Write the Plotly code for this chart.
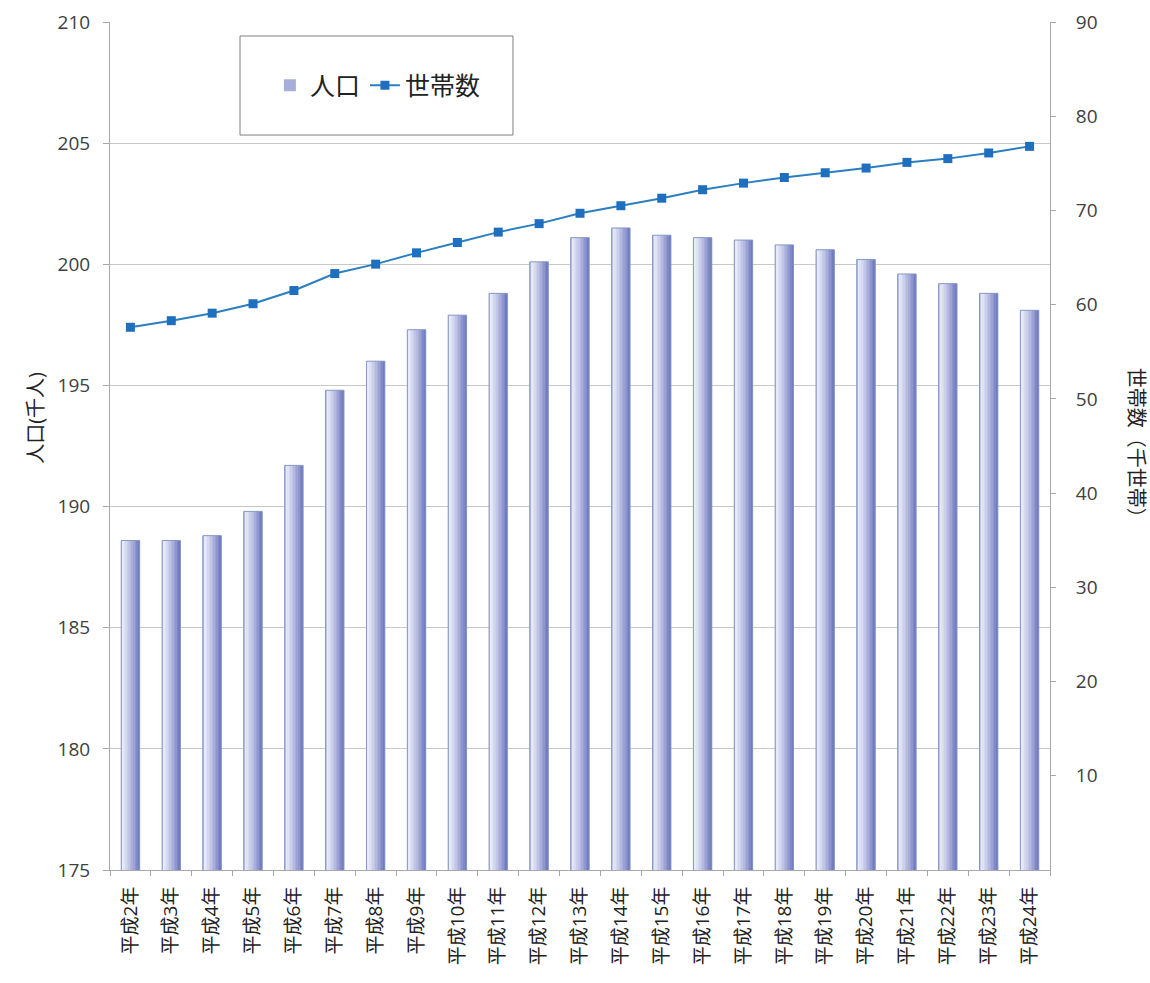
import plotly.graph_objects as go

# 年次（平成2年〜平成24年）
years = ["平成2年", "平成3年", "平成4年", "平成5年", "平成6年", "平成7年", "平成8年",
         "平成9年", "平成10年", "平成11年", "平成12年", "平成13年", "平成14年",
         "平成15年", "平成16年", "平成17年", "平成18年", "平成19年", "平成20年",
         "平成21年", "平成22年", "平成23年", "平成24年"]

# 人口（千人）
population = [188.6, 188.6, 188.8, 189.8, 191.7, 194.8, 196.0, 197.3, 197.9, 198.8,
              200.1, 201.1, 201.5, 201.2, 201.1, 201.0, 200.8, 200.6, 200.2, 199.6,
              199.2, 198.8, 198.1]

# 世帯数（千世帯）
households = [57.6, 58.3, 59.1, 60.1, 61.5, 63.3, 64.3, 65.5, 66.6, 67.7, 68.6, 69.7,
              70.5, 71.3, 72.2, 72.9, 73.5, 74.0, 74.5, 75.1, 75.5, 76.1, 76.8]

left_ticks = [175, 180, 185, 190, 195, 200, 205, 210]
right_ticks = [10, 20, 30, 40, 50, 60, 70, 80, 90]

FONT = "Open Sans, Noto Sans CJK JP, sans-serif"
TICK_COLOR = "#404040"
TEXT_COLOR = "#222222"

fig = go.Figure()

# 円柱風のグラデーションを細い縦帯の重ね合わせで表現
bar_w = 0.45
n_slices = 12
light = (240, 242, 252)
dark = (108, 116, 190)
for i in range(n_slices):
    t = (i + 0.5) / n_slices
    k = t ** 1.3
    if i == 0:
        k = 0.35
    r = round(light[0] + (dark[0] - light[0]) * k)
    g = round(light[1] + (dark[1] - light[1]) * k)
    b = round(light[2] + (dark[2] - light[2]) * k)
    fig.add_trace(go.Bar(
        x=years, y=population,
        width=bar_w / n_slices,
        offset=-bar_w / 2 + i * bar_w / n_slices,
        marker=dict(color=f"rgb({r},{g},{b})", line=dict(width=0)),
        name="人口", showlegend=(i == 7), legendgroup="pop",
        yaxis="y",
    ))

# 棒の輪郭
fig.add_trace(go.Bar(
    x=years, y=population, width=bar_w, offset=-bar_w / 2,
    marker=dict(color="rgba(0,0,0,0)", line=dict(width=1, color="#8598c4")),
    showlegend=False, legendgroup="pop", hoverinfo="skip", yaxis="y",
))

fig.add_trace(go.Scatter(
    x=years, y=households, name="世帯数", yaxis="y2",
    mode="lines+markers",
    line=dict(color="#2a7fc0", width=2),
    marker=dict(symbol="square", size=9, color="#1f6fbf"),
))

fig.update_layout(
    width=1150, height=983,
    margin=dict(l=110, r=100, t=22, b=113),
    paper_bgcolor="white", plot_bgcolor="white",
    barmode="overlay",
    font=dict(family=FONT, color=TICK_COLOR),
    xaxis=dict(
        type="category", tickangle=-90, automargin=False,
        tickfont=dict(size=19, color=TEXT_COLOR, family=FONT),
        showgrid=False, showline=True, linecolor="#a8a8a8", linewidth=1,
        ticks="outside", tickson="boundaries", ticklen=5, tickcolor="#a8a8a8",
        ticklabelstandoff=8,
        range=[-0.5, len(years) - 0.5],
    ),
    yaxis=dict(
        range=[175, 210], tickvals=left_ticks, automargin=False,
        tickfont=dict(size=19, color=TICK_COLOR),
        showgrid=True, gridcolor="#c8c8c8", gridwidth=1,
        showline=True, linecolor="#a8a8a8", linewidth=1,
        ticks="outside", ticklen=6, tickcolor="#a8a8a8",
        ticklabelstandoff=9,
        zeroline=False,
    ),
    yaxis2=dict(
        overlaying="y", side="right", automargin=False,
        range=[0, 90], tickvals=right_ticks,
        tickfont=dict(size=19, color=TICK_COLOR),
        showgrid=False, showline=True, linecolor="#a8a8a8", linewidth=1,
        ticks="outside", ticklen=5, tickcolor="#a8a8a8",
        ticklabelstandoff=16,
        zeroline=False,
    ),
    legend=dict(
        orientation="h", x=0.285, y=0.925, xanchor="center", yanchor="middle",
        bgcolor="rgba(0,0,0,0)", borderwidth=0,
        font=dict(size=25, color=TEXT_COLOR),
        itemwidth=30,
    ),
    shapes=[dict(
        type="rect", xref="paper", yref="paper",
        x0=0.1383, x1=0.4287, y0=0.8667, y1=0.9835,
        line=dict(color="#7f7f7f", width=1), fillcolor="white", layer="below",
    )],
    annotations=[
        dict(
            text="人口(千人)", textangle=-90,
            xref="paper", yref="paper", x=-0.08, y=0.533,
            xanchor="center", yanchor="middle", showarrow=False,
            font=dict(size=20, color=TEXT_COLOR),
        ),
        dict(
            text="世帯数（千世帯）", textangle=90,
            xref="paper", yref="paper", x=1.0915, y=0.498,
            xanchor="center", yanchor="middle", showarrow=False,
            font=dict(size=20, color=TEXT_COLOR),
        ),
    ],
)

fig.write_html("out.html")
